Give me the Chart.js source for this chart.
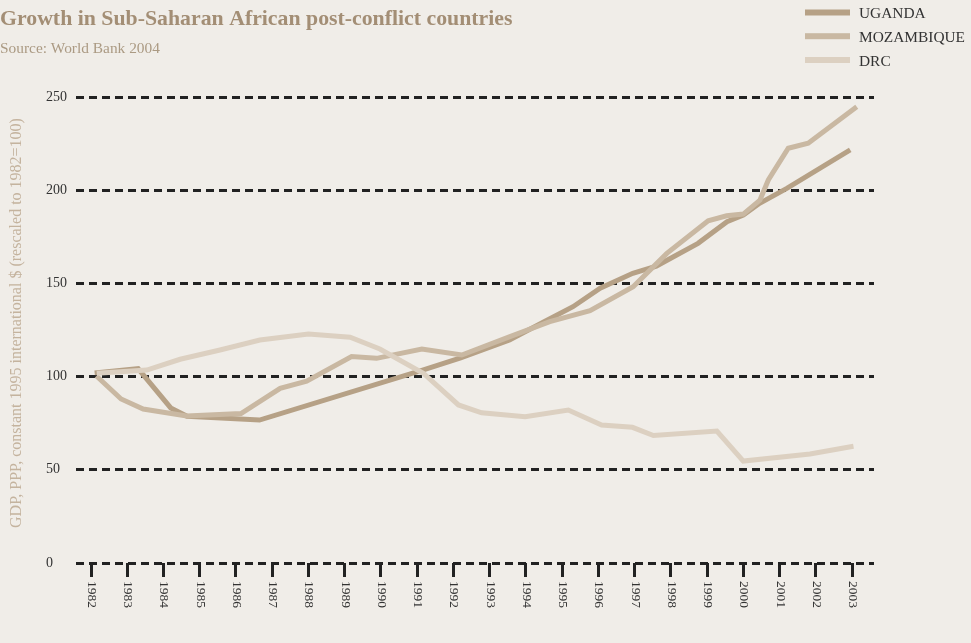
<!DOCTYPE html>
<html><head><meta charset="utf-8">
<script src="https://cdn.jsdelivr.net/npm/chart.js@4.4.1/dist/chart.umd.min.js"></script>
<style>
html,body{margin:0;padding:0;background:#f0ede8;}
canvas{display:block;}
</style>
</head><body>
<canvas id="c" width="971" height="643"></canvas>
<script>
// ---- Texts ----
const chartTitle = 'Growth in Sub-Saharan African post-conflict countries';
const chartSubtitle = 'Source: World Bank 2004';
const yAxisTitle = 'GDP, PPP, constant 1995 international $ (rescaled to 1982=100)';
const seriesNames = ['UGANDA', 'MOZAMBIQUE', 'DRC'];

// ---- Axis ticks ----
const yearTicks = [1982,1983,1984,1985,1986,1987,1988,1989,1990,1991,1992,1993,1994,1995,1996,1997,1998,1999,2000,2001,2002,2003];
const valueTicks = [0, 50, 100, 150, 200, 250];

// ---- Series (year, value) ----
const ugandaYears  = [1982.1, 1983.3, 1984.2, 1984.65, 1986.65, 1991.15, 1992.2, 1993.55, 1994.45, 1995.3, 1996.05, 1996.95, 1997.6, 1998.75, 1999.55, 2000.0, 2000.45, 2001.2, 2002.95];
const ugandaValues = [102, 104.3, 83.2, 78.7, 76.7, 103.5, 110, 119.6, 128.9, 137.5, 147.4, 155.4, 159.3, 171.5, 183.1, 186.7, 193, 201, 221.6];

const mozambiqueYears  = [1982.15, 1982.83, 1983.44, 1984.64, 1986.14, 1987.22, 1987.95, 1989.19, 1989.88, 1991.13, 1992.23, 1993.56, 1994.66, 1995.77, 1996.96, 1997.89, 1999.03, 1999.54, 2000.0, 2000.46, 2000.69, 2001.24, 2001.79, 2003.13];
const mozambiqueValues = [100.3, 88.0, 82.6, 78.9, 80.2, 93.7, 97.6, 110.8, 109.8, 114.8, 111.6, 121.4, 129.5, 135.4, 148.2, 166.1, 183.6, 186.3, 187.2, 194.7, 205.5, 222.5, 225.2, 244.8];

const drcYears  = [1982.16, 1983.54, 1984.46, 1985.56, 1986.66, 1988.0, 1989.15, 1989.97, 1991.17, 1992.14, 1992.78, 1993.98, 1995.17, 1996.09, 1996.94, 1997.52, 1999.27, 2000.0, 2001.84, 2003.04];
const drcValues = [101.8, 103.5, 109.3, 114.3, 119.6, 122.9, 121.1, 114.8, 101.8, 84.8, 80.6, 78.5, 82.1, 74.0, 72.8, 68.4, 70.8, 54.7, 58.5, 62.6];

// ---- Styles ----
const BG = '#f0ede8';
const seriesColors = ['#b6a186', '#c9b8a2', '#dcd0c1'];
const SERIF = '"Liberation Serif", "DejaVu Serif", serif';

function pts(xs, ys) { return xs.map((x, i) => ({ x: x, y: ys[i] })); }

const decor = {
  id: 'decor',
  beforeDraw(chart) {
    const ctx = chart.ctx;
    ctx.save();
    ctx.fillStyle = BG;
    ctx.fillRect(0, 0, chart.width, chart.height);
    ctx.restore();
  },
  afterDraw(chart) {
    const ctx = chart.ctx;
    ctx.save();
    // title
    ctx.fillStyle = '#a38e75';
    ctx.textAlign = 'left';
    ctx.textBaseline = 'alphabetic';
    ctx.font = 'bold 21.8px ' + SERIF;
    ctx.fillText(chartTitle, 0, 25);
    ctx.fillStyle = '#ab9a83';
    ctx.font = '15.4px ' + SERIF;
    ctx.fillText(chartSubtitle, 0, 53);
    // legend
    const ly = [12.5, 36.2, 60];
    ctx.font = '15.4px ' + SERIF;
    seriesNames.forEach((n, i) => {
      ctx.fillStyle = seriesColors[i];
      ctx.fillRect(805, ly[i] - 3, 45, 6);
      ctx.fillStyle = '#333333';
      ctx.fillText(n, 859, ly[i] + 5.5);
    });
    // y-axis title
    ctx.save();
    ctx.translate(17, 323);
    ctx.rotate(-Math.PI / 2);
    ctx.textAlign = 'center';
    ctx.textBaseline = 'middle';
    ctx.fillStyle = '#c4b39e';
    ctx.font = '16px ' + SERIF;
    ctx.fillText(yAxisTitle, 0, 0);
    ctx.restore();
    // x tick labels (rotated clockwise)
    const xs = chart.scales.x;
    ctx.fillStyle = '#333333';
    ctx.font = '13.5px ' + SERIF;
    yearTicks.forEach(v => {
      const px = xs.getPixelForValue(v);
      ctx.save();
      ctx.translate(px + 0.5, 581);
      ctx.rotate(Math.PI / 2);
      ctx.textAlign = 'left';
      ctx.textBaseline = 'middle';
      ctx.fillText(String(v), 0, 0);
      ctx.restore();
    });
    ctx.restore();
  }
};

new Chart(document.getElementById('c'), {
  type: 'line',
  data: {
    datasets: [
      { label: seriesNames[0], data: pts(ugandaYears, ugandaValues), borderColor: seriesColors[0], order: 2 },
      { label: seriesNames[1], data: pts(mozambiqueYears, mozambiqueValues), borderColor: seriesColors[1], order: 1 },
      { label: seriesNames[2], data: pts(drcYears, drcValues), borderColor: seriesColors[2], order: 0 }
    ]
  },
  options: {
    responsive: false,
    animation: false,
    devicePixelRatio: 1,
    layout: { padding: { left: 46, top: 97, right: 97, bottom: 0 } },
    elements: {
      line: { borderWidth: 5, tension: 0, fill: false, borderCapStyle: 'butt', borderJoinStyle: 'miter' },
      point: { radius: 0, hoverRadius: 0 }
    },
    plugins: { legend: { display: false }, tooltip: { enabled: false }, title: { display: false } },
    scales: {
      x: {
        type: 'linear',
        min: 1981.586,
        max: 2003.606,
        afterBuildTicks: s => { s.ticks = yearTicks.map(v => ({ value: v })); },
        afterFit: s => { s.height = 80; },
        ticks: { display: false },
        grid: { drawOnChartArea: false, drawTicks: true, tickLength: 14, lineWidth: 3, color: '#222222' },
        border: { display: false }
      },
      y: {
        min: 0,
        max: 250,
        z: 1,
        afterBuildTicks: s => { s.ticks = valueTicks.map(v => ({ value: v })); },
        afterFit: s => { s.width = 30; },
        ticks: { crossAlign: 'far', color: '#333333', font: { family: SERIF, size: 14 }, padding: 0 },
        grid: { drawTicks: false, lineWidth: 3, color: '#222222' },
        border: { display: false, dash: [8, 5] }
      }
    }
  },
  plugins: [decor]
});
</script>
</body></html>
